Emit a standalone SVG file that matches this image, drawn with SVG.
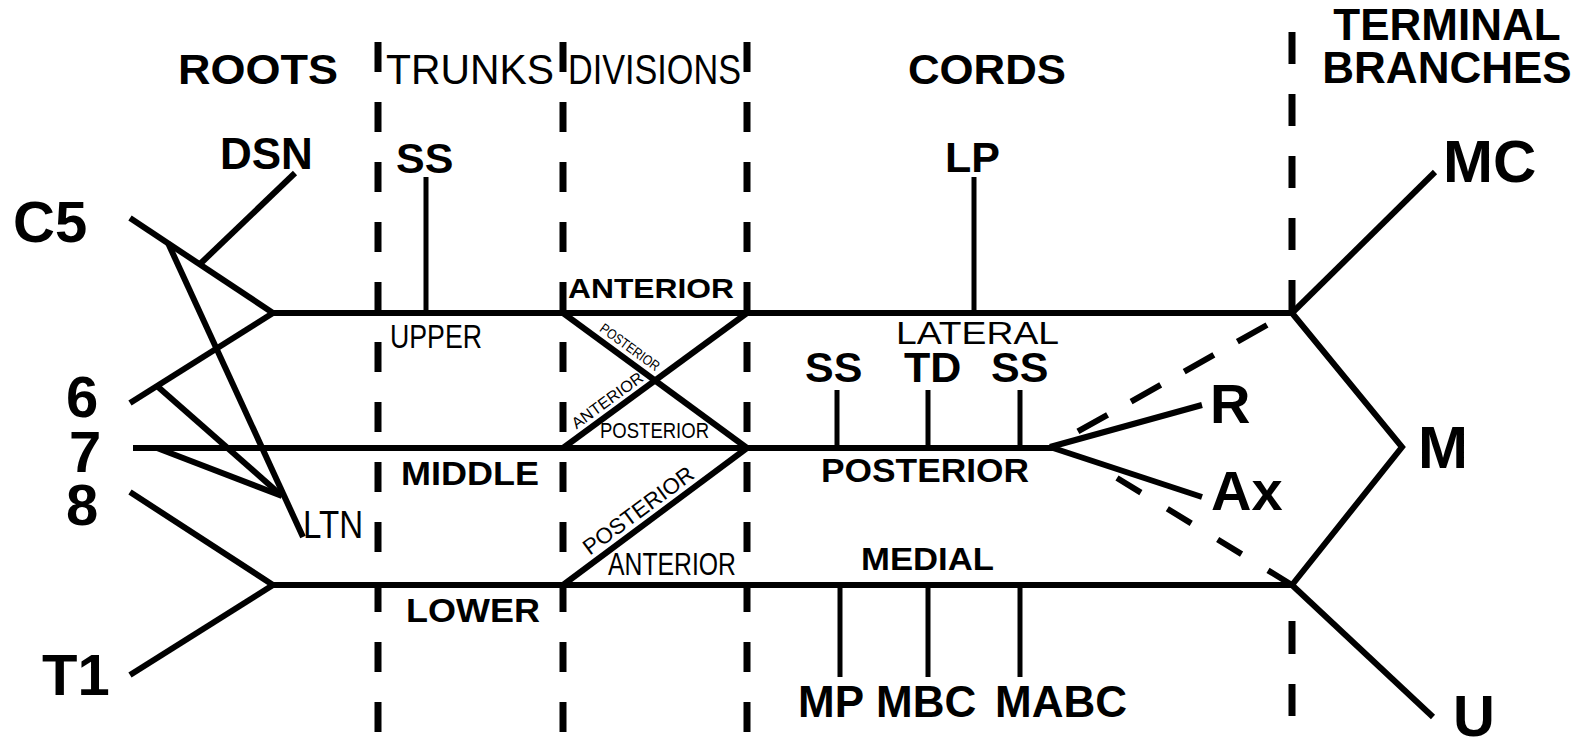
<svg xmlns="http://www.w3.org/2000/svg" width="1580" height="748" viewBox="0 0 1580 748">
<style>
text{font-family:"Liberation Sans",Arial,sans-serif;fill:#000}
.b{font-weight:bold}
.big{font-size:58px;font-weight:bold}
.mid{font-size:43px;font-weight:bold}
.hdr{font-size:43px}
.ln{stroke:#000;stroke-width:6;fill:none;stroke-linecap:butt;stroke-linejoin:miter}
.br{stroke:#000;stroke-width:5;fill:none}
.vd{stroke:#000;stroke-width:7;fill:none;stroke-dasharray:30 30}
.dd{stroke:#000;stroke-width:6;fill:none}
</style>
<rect width="1580" height="748" fill="#fff"/>

<g id="section-dividers">
<line class="vd" x1="378" y1="42" x2="378" y2="748"/>
<line class="vd" x1="563" y1="42" x2="563" y2="748"/>
<line class="vd" x1="747" y1="42" x2="747" y2="748"/>
<line class="vd" x1="1292" y1="32" x2="1292" y2="313" style="stroke-dasharray:32 30"/>
<line class="vd" x1="1292" y1="621" x2="1292" y2="716" style="stroke-dasharray:33 30"/>
</g>

<g id="headers">
<text class="hdr b" x="178" y="84" textLength="160" lengthAdjust="spacingAndGlyphs">ROOTS</text>
<text class="hdr" x="386" y="84" textLength="168" lengthAdjust="spacingAndGlyphs">TRUNKS</text>
<text class="hdr" x="568" y="84" textLength="173" lengthAdjust="spacingAndGlyphs">DIVISIONS</text>
<text class="hdr b" x="908" y="84" textLength="158" lengthAdjust="spacingAndGlyphs">CORDS</text>
<text class="b" font-size="44" x="1447" y="40" text-anchor="middle">TERMINAL</text>
<text class="b" font-size="44" x="1447" y="83" text-anchor="middle">BRANCHES</text>
</g>

<g id="connectors">
<line class="ln" x1="130" y1="218" x2="273" y2="313"/>
<line class="ln" x1="130" y1="403" x2="273" y2="313"/>
<line class="ln" x1="133" y1="448" x2="1053" y2="448"/>
<line class="ln" x1="130" y1="492" x2="273" y2="585"/>
<line class="ln" x1="130" y1="675" x2="273" y2="585"/>
<line class="ln" x1="295" y1="173" x2="200" y2="264"/>
<line class="ln" x1="168" y1="243" x2="303" y2="537"/>
<line class="ln" x1="157" y1="386" x2="282" y2="496"/>
<line class="ln" x1="157" y1="448" x2="282" y2="496"/>
<line class="ln" x1="273" y1="313" x2="1292" y2="313"/>
<line class="ln" x1="273" y1="585" x2="1292" y2="585"/>
<line class="ln" x1="563" y1="313" x2="747" y2="448"/>
<line class="ln" x1="563" y1="448" x2="747" y2="313"/>
<line class="ln" x1="563" y1="585" x2="747" y2="448"/>
<line class="br" x1="426" y1="177" x2="426" y2="313"/>
<line class="br" x1="974" y1="177" x2="974" y2="313"/>
<line class="br" x1="837" y1="390" x2="837" y2="448"/>
<line class="br" x1="928" y1="390" x2="928" y2="448"/>
<line class="br" x1="1020" y1="390" x2="1020" y2="448"/>
<line class="br" x1="840" y1="585" x2="840" y2="677"/>
<line class="br" x1="928" y1="585" x2="928" y2="677"/>
<line class="br" x1="1020" y1="585" x2="1020" y2="677"/>
<line class="ln" x1="1050" y1="447" x2="1202" y2="405"/>
<line class="ln" x1="1050" y1="447" x2="1202" y2="497"/>
<line class="dd" x1="1267" y1="325" x2="1077" y2="432" style="stroke-dasharray:34 27"/>
<line class="dd" x1="1117" y1="478" x2="1292" y2="585" style="stroke-dasharray:28 31"/>
<line class="ln" x1="1292" y1="313" x2="1435" y2="172"/>
<polyline class="ln" points="1292,313 1402,447 1292,585"/>
<line class="ln" x1="1292" y1="585" x2="1433" y2="717"/>
</g>

<g id="root-C5"><text class="big" x="13" y="242">C5</text></g>
<g id="root-6"><text class="big" x="66" y="417">6</text></g>
<g id="root-7"><text class="big" x="69" y="472">7</text></g>
<g id="root-8"><text class="big" x="66" y="525">8</text></g>
<g id="root-T1"><text class="big" x="42" y="695">T1</text></g>

<g id="nerve-DSN"><text class="b" font-size="44" x="220" y="169">DSN</text></g>
<g id="nerve-LTN"><text font-size="38" x="303" y="538" textLength="60" lengthAdjust="spacingAndGlyphs">LTN</text></g>
<g id="nerve-SS-upper"><text class="mid" x="396" y="173">SS</text></g>

<g id="trunk-upper"><text font-size="34" x="390" y="348" textLength="92" lengthAdjust="spacingAndGlyphs">UPPER</text></g>
<g id="trunk-middle"><text class="b" font-size="33" x="401" y="485" textLength="138" lengthAdjust="spacingAndGlyphs">MIDDLE</text></g>
<g id="trunk-lower"><text class="b" font-size="34" x="406" y="622" textLength="134" lengthAdjust="spacingAndGlyphs">LOWER</text></g>

<g id="division-labels">
<text class="b" font-size="28" x="568" y="298" textLength="166" lengthAdjust="spacingAndGlyphs">ANTERIOR</text>
<text font-size="14" transform="translate(630,347) rotate(36)" text-anchor="middle" y="5" textLength="70" lengthAdjust="spacingAndGlyphs">POSTERIOR</text>
<text font-size="16" transform="translate(607,400) rotate(-36)" text-anchor="middle" y="6" textLength="84" lengthAdjust="spacingAndGlyphs">ANTERIOR</text>
<text font-size="22" x="600" y="438" textLength="109" lengthAdjust="spacingAndGlyphs">POSTERIOR</text>
<text font-size="22" transform="translate(638,510) rotate(-36.5)" text-anchor="middle" y="8" textLength="132" lengthAdjust="spacingAndGlyphs">POSTERIOR</text>
<text font-size="31" x="608" y="575" textLength="128" lengthAdjust="spacingAndGlyphs">ANTERIOR</text>
</g>

<g id="cord-lateral"><text font-size="31" x="896" y="344" textLength="163" lengthAdjust="spacingAndGlyphs">LATERAL</text></g>
<g id="cord-posterior"><text class="b" font-size="34" x="821" y="482" textLength="208" lengthAdjust="spacingAndGlyphs">POSTERIOR</text></g>
<g id="cord-medial"><text class="b" font-size="32" x="861" y="570" textLength="133" lengthAdjust="spacingAndGlyphs">MEDIAL</text></g>

<g id="nerve-LP"><text class="mid" x="945" y="172">LP</text></g>
<g id="nerve-SS-1"><text class="mid" x="805" y="382">SS</text></g>
<g id="nerve-TD"><text class="mid" x="904" y="382">TD</text></g>
<g id="nerve-SS-2"><text class="mid" x="991" y="382">SS</text></g>
<g id="nerve-MP"><text class="b" font-size="44" x="798" y="717">MP</text></g>
<g id="nerve-MBC"><text class="b" font-size="44" x="876" y="717">MBC</text></g>
<g id="nerve-MABC"><text class="b" font-size="44" x="995" y="717">MABC</text></g>

<g id="branch-R"><text class="b" font-size="56" x="1210" y="423">R</text></g>
<g id="branch-Ax"><text class="b" font-size="56" x="1211" y="510">Ax</text></g>
<g id="branch-MC"><text class="b" font-size="60" x="1443" y="182">MC</text></g>
<g id="branch-M"><text class="b" font-size="60" x="1418" y="468">M</text></g>
<g id="branch-U"><text class="big" x="1453" y="736">U</text></g>
</svg>
